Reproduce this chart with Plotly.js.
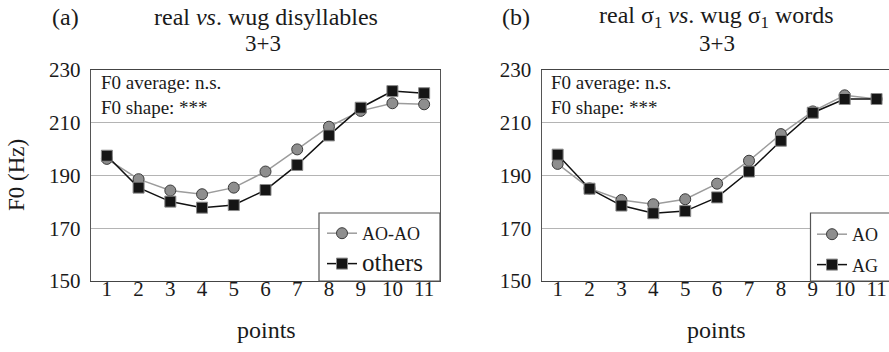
<!DOCTYPE html>
<html>
<head>
<meta charset="utf-8">
<script src="https://cdn.plot.ly/plotly-3.0.1.min.js"></script>
<style>html,body{margin:0;padding:0;background:#fff;}#chart{width:889px;height:352px;}</style>
</head>
<body>
<div id="chart"></div>
<script>
// ---- data ----
var points = [1, 2, 3, 4, 5, 6, 7, 8, 9, 10, 11];
var tickLabelsX = ['1', '2', '3', '4', '5', '6', '7', '8', '9', '10', '11'];
var tickValsY = [150, 170, 190, 210, 230];
// panel (a)
var aoaoA = [196.3, 188.6, 184.3, 182.9, 185.4, 191.5, 199.9, 208.5, 214.5, 217.4, 217.0];
var othersA = [197.5, 185.4, 180.1, 177.8, 178.8, 184.5, 194.0, 205.2, 215.7, 222.0, 221.2];
// panel (b)
var aoB = [194.4, 185.1, 180.7, 179.1, 181.0, 186.9, 195.6, 205.7, 214.3, 220.4, 219.0];
var agB = [197.9, 185.0, 178.6, 175.7, 176.5, 181.7, 191.5, 203.2, 213.8, 219.0, 219.0];

var W = 889, H = 352;
function px(x) { return x / W; }
function py(y) { return 1 - y / H; }
var FONT = '"Liberation Serif", "Times New Roman", "DejaVu Serif", serif';
var TXT = '#1a1a1a';

var circleStyle = {
  mode: 'lines+markers',
  line: {color: '#9c9c9c', width: 1.5},
  marker: {symbol: 'circle', size: 11, color: '#8e8e8e', line: {color: '#3a3a3a', width: 1}}
};
var squareStyle = {
  mode: 'lines+markers',
  line: {color: '#111111', width: 1.5},
  marker: {symbol: 'square', size: 11, color: '#151515', line: {color: '#8a8a8a', width: 1}}
};
function tr(style, x, y, name, xa, ya, legend, group) {
  var t = JSON.parse(JSON.stringify(style));
  t.x = x; t.y = y; t.name = name; t.xaxis = xa; t.yaxis = ya;
  t.legend = legend; t.legendgroup = group; t.hoverinfo = 'skip';
  return t;
}
var data = [
  tr(circleStyle, points, aoaoA, 'AO-AO', 'x', 'y', 'legend', 'a1'),
  tr(squareStyle, points, othersA, '<span style="font-size:25px">others</span>', 'x', 'y', 'legend', 'a2'),
  tr(circleStyle, points, aoB, 'AO', 'x2', 'y2', 'legend2', 'b1'),
  tr(squareStyle, points, agB, 'AG', 'x2', 'y2', 'legend2', 'b2')
];

var yTop = 70, yBot = 281;
function xaxisDef(d0, d1, r1, anchor) {
  return {
    domain: [d0, d1], range: [0.5, r1], anchor: anchor,
    tickmode: 'array', tickvals: points, ticktext: tickLabelsX,
    ticks: '', showgrid: false, zeroline: false, ticklabelstandoff: -11,
    showline: true, linecolor: '#444', linewidth: 1.2, mirror: true,
    tickfont: {family: FONT, size: 21, color: TXT}, fixedrange: true
  };
}
function yaxisDef(anchor, mirror) {
  return {
    domain: [py(yBot), py(yTop)], range: [150, 230], anchor: anchor,
    tickmode: 'array', tickvals: tickValsY, ticktext: tickValsY.map(String),
    ticks: '', showgrid: true, gridcolor: '#b4b4b4', gridwidth: 1, zeroline: false,
    ticklabelstandoff: 5,
    showline: true, linecolor: '#555', linewidth: 1.2, mirror: mirror,
    tickfont: {family: FONT, size: 21, color: TXT}, fixedrange: true
  };
}

function ann(x, y, text, size, opts) {
  var a = {xref: 'paper', yref: 'paper', x: px(x), y: py(y), text: text, showarrow: false,
    font: {family: FONT, size: size, color: TXT}, xanchor: 'center', yanchor: 'middle'};
  for (var k in opts) a[k] = opts[k];
  return a;
}
var statsText = 'F0 average: n.s.<br>F0 shape: ***';
var annotations = [
  ann(50, 17, '(a)', 24, {xanchor: 'left'}),
  ann(265.5, 17, 'real <i>vs</i>. wug disyllables', 24),
  ann(263, 43.5, '3+3', 23),
  ann(500, 17, '(b)', 24, {xanchor: 'left'}),
  ann(716.5, 17, 'real σ<sub>1</sub> <i>vs</i>. wug σ<sub>1</sub> words', 24),
  ann(716.5, 43.5, '3+3', 23),
  ann(99, 94.5, statsText, 19, {xanchor: 'left', align: 'left'}),
  ann(549, 94.5, statsText, 19, {xanchor: 'left', align: 'left'}),
  ann(266, 330, 'points', 24),
  ann(716.5, 330, 'points', 24),
  ann(17, 175, 'F0 (Hz)', 23, {textangle: -90})
];

var shapes = [
  {type: 'rect', xref: 'paper', yref: 'paper', layer: 'above',
   x0: px(319), x1: px(440), y0: py(281), y1: py(213),
   fillcolor: '#ffffff', line: {color: '#555', width: 1.2}},
  {type: 'rect', xref: 'paper', yref: 'paper', layer: 'above',
   x0: px(810.5), x1: px(895), y0: py(281), y1: py(213),
   fillcolor: '#ffffff', line: {color: '#555', width: 1.2}}
];

var legendBase = {
  bgcolor: 'rgba(0,0,0,0)', borderwidth: 0, xanchor: 'left', yanchor: 'top',
  font: {family: FONT, size: 18, color: TXT}, tracegroupgap: 4, itemwidth: 30,
  itemclick: false, itemdoubleclick: false
};
var legA = JSON.parse(JSON.stringify(legendBase)); legA.x = px(322); legA.y = py(215);
var legB = JSON.parse(JSON.stringify(legendBase)); legB.x = px(812); legB.y = py(216);

var layout = {
  width: W, height: H, margin: {l: 0, r: 0, t: 0, b: 0},
  paper_bgcolor: '#ffffff', plot_bgcolor: '#ffffff',
  font: {family: FONT, color: TXT},
  showlegend: true,
  xaxis: xaxisDef(px(91), px(440), 11.5, 'y'),
  yaxis: yaxisDef('x', true),
  xaxis2: xaxisDef(px(541.7), 1, 11.39, 'y2'),
  yaxis2: yaxisDef('x2', false),
  legend: legA, legend2: legB,
  annotations: annotations, shapes: shapes
};
Plotly.newPlot('chart', data, layout, {displayModeBar: false, staticPlot: true});
</script>
</body>
</html>
